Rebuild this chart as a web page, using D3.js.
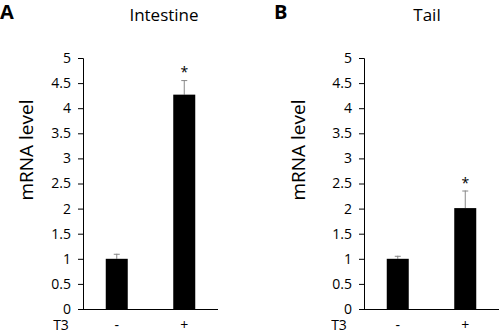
<!DOCTYPE html>
<html><head><meta charset="utf-8">
<script src="https://cdn.jsdelivr.net/npm/d3@7"></script>
<style>
body{margin:0;background:#fff;}
text{font-family:"Open Sans","Segoe UI",sans-serif;fill:#000;}
</style></head>
<body><svg id="c" width="500" height="333"></svg>
<script>
const categories = ["-", "+"];
const intestineValues = [1.0, 4.27];
const intestineErrors = [0.1, 0.29];
const tailValues = [1.0, 2.01];
const tailErrors = [0.06, 0.35];
const significant = [false, true];
const yTicks = [0, 0.5, 1, 1.5, 2, 2.5, 3, 3.5, 4, 4.5, 5];
const panels = [
  {letter: "A", title: "Intestine", values: intestineValues, errors: intestineErrors},
  {letter: "B", title: "Tail", values: tailValues, errors: tailErrors}
];
const layout = [
  {x0: 83, x1: 218, letterX: 0, titleX: 164, ylabX: 33, t3X: 61},
  {x0: 364, x1: 499, letterX: 274, titleX: 427, ylabX: 305, t3X: 339}
];
const svg = d3.select("#c");
const y = d3.scaleLinear().domain([0, 5]).range([309, 58]);
panels.forEach((p, i) => {
  const L = layout[i];
  const g = svg.append("g");
  const x = d3.scalePoint().domain(categories).range([L.x0, L.x1]).padding(0.5);
  const bw = 22;
  const rows = categories.map((c, j) => ({c, v: p.values[j], e: p.errors[j], s: significant[j]}));
  const ya = d3.axisLeft(y).tickValues(yTicks).tickFormat(d => String(d)).tickSize(5).tickPadding(7);
  const yg = g.append("g").attr("transform", `translate(${L.x0},0)`).call(ya);
  yg.select(".domain").attr("stroke", "#000");
  yg.selectAll(".tick line").attr("stroke", "#000");
  yg.selectAll(".tick text").style("font-size", "14px").style("font-family", '"Open Sans",sans-serif').attr("fill", "#000");
  g.append("line").attr("x1", L.x0).attr("x2", L.x1).attr("y1", y(0) + 0.5).attr("y2", y(0) + 0.5).attr("stroke", "#000");
  g.selectAll(".err").data(rows).enter().append("line")
    .attr("x1", d => x(d.c)).attr("x2", d => x(d.c))
    .attr("y1", d => y(d.v)).attr("y2", d => y(d.v + d.e))
    .attr("stroke", "#888").attr("stroke-width", 1);
  g.selectAll(".cap").data(rows).enter().append("line")
    .attr("x1", d => x(d.c) - 3).attr("x2", d => x(d.c) + 3)
    .attr("y1", d => y(d.v + d.e) + 0.5).attr("y2", d => y(d.v + d.e) + 0.5)
    .attr("stroke", "#888").attr("stroke-width", 1);
  g.selectAll(".bar").data(rows).enter().append("rect")
    .attr("x", d => x(d.c) - bw / 2).attr("width", bw)
    .attr("y", d => y(d.v)).attr("height", d => y(0) - y(d.v)).attr("fill", "#000");
  g.selectAll(".sig").data(rows.filter(d => d.s)).enter().append("text")
    .attr("x", d => x(d.c)).attr("y", d => y(d.v + d.e) - 3)
    .attr("text-anchor", "middle").style("font-size", "14px").text("*");
  g.selectAll(".cat").data(categories).enter().append("text")
    .attr("x", d => x(d)).attr("y", 330).attr("text-anchor", "middle")
    .style("font-size", "14px").text(d => d);
  g.append("text").attr("x", L.t3X).attr("y", 330).attr("text-anchor", "middle").style("font-size", "14px").text("T3");
  g.append("text").attr("transform", `translate(${L.ylabX},150) rotate(-90)`)
    .attr("text-anchor", "middle").style("font-size", "19px").text("mRNA level");
  g.append("text").attr("x", L.titleX).attr("y", 21).attr("text-anchor", "middle").style("font-size", "17px").text(p.title);
  g.append("text").attr("x", L.letterX).attr("y", 19).style("font-size", "20px").style("font-weight", "bold").style("font-family", '"Open Sans",sans-serif').text(p.letter);
});
</script></body></html>
